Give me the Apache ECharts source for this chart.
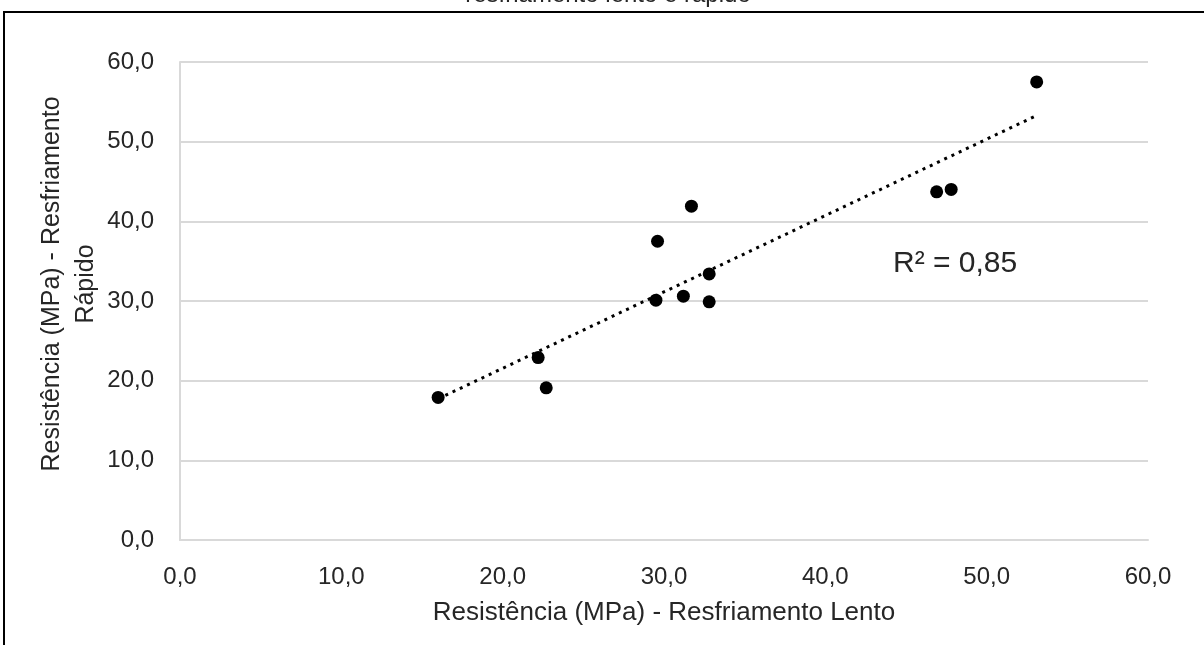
<!DOCTYPE html>
<html>
<head>
<meta charset="utf-8">
<title>Resfriamento lento e rápido</title>
<script src="https://cdn.jsdelivr.net/npm/echarts@6/dist/echarts.min.js"></script>
<style>
  html, body { margin: 0; padding: 0; background: #fff; }
  #main { width: 1204px; height: 645px; }
</style>
</head>
<body>
<div id="main"></div>
<script>
// valores (MPa)
var lento = [16.0, 22.2, 22.7, 29.5, 29.6, 31.2, 31.7, 32.8, 32.8, 46.9, 47.8, 53.1];
var rapido = [17.9, 22.9, 19.1, 30.1, 37.5, 30.6, 41.9, 33.4, 29.9, 43.7, 44.0, 57.5];
var r2Label = 'R² = 0,85';

var pontos = lento.map(function (x, i) { return [x, rapido[i]]; });

// linha de tendência linear (mínimos quadrados)
var n = lento.length, sx = 0, sy = 0, sxx = 0, sxy = 0;
for (var i = 0; i < n; i++) {
    sx += lento[i]; sy += rapido[i];
    sxx += lento[i] * lento[i]; sxy += lento[i] * rapido[i];
}
var a = (n * sxy - sx * sy) / (n * sxx - sx * sx);
var b = (sy - a * sx) / n;
var xMin = Math.min.apply(null, lento), xMax = Math.max.apply(null, lento);
var tendencia = [[xMin, a * xMin + b], [xMax, a * xMax + b]];

function virgula(v) { return v.toFixed(1).replace('.', ','); }

var fonte = '"Liberation Sans", Arial, sans-serif';
var chart = echarts.init(document.getElementById('main'));
var option = {
    animation: false,
    grid: { left: 180, right: 56, top: 62, bottom: 105 },
    xAxis: {
        type: 'value', min: 0, max: 60, interval: 10,
        axisLine: { show: true, lineStyle: { color: '#d9d9d9', width: 2 } },
        axisTick: { show: false },
        splitLine: { show: false },
        axisLabel: { formatter: virgula, color: '#262626', fontSize: 24, fontFamily: fonte, margin: 25 },
        name: 'Resistência (MPa) - Resfriamento Lento',
        nameLocation: 'middle', nameGap: 60,
        nameTextStyle: { color: '#262626', fontSize: 26, fontFamily: fonte }
    },
    yAxis: {
        type: 'value', min: 0, max: 60, interval: 10,
        axisLine: { show: true, lineStyle: { color: '#d9d9d9', width: 2 } },
        axisTick: { show: false },
        splitLine: { lineStyle: { color: '#d9d9d9', width: 2 } },
        axisLabel: { formatter: virgula, color: '#262626', fontSize: 24, fontFamily: fonte, margin: 26 }
    },
    graphic: [
        { type: 'rect', shape: { x: 4, y: 12, width: 1400, height: 800 },
          style: { fill: 'none', stroke: '#000', lineWidth: 2 } },
        { type: 'text', x: 608, y: -5,
          style: { text: 'resfriamento lento e rápido', fill: '#262626', font: '24px ' + fonte,
                   textAlign: 'center', textVerticalAlign: 'middle' } },
        { type: 'text', x: 69, y: 284, rotation: Math.PI / 2,
          style: { text: 'Resistência (MPa) - Resfriamento\nRápido', fill: '#262626', font: '25px ' + fonte,
                   lineHeight: 34, textAlign: 'center', textVerticalAlign: 'middle' } },
        { type: 'text', x: 893, y: 264,
          style: { text: r2Label, fill: '#262626', font: '30px ' + fonte,
                   textAlign: 'left', textVerticalAlign: 'middle' } }
    ],
    series: [
        {
            type: 'line', data: tendencia, showSymbol: false, symbol: 'none',
            lineStyle: { color: '#000', width: 3, type: [3, 5], cap: 'butt' },
            silent: true, z: 2
        },
        {
            type: 'scatter', data: pontos, symbolSize: 13,
            itemStyle: { color: '#000', opacity: 1 }, z: 3
        }
    ]
};
chart.setOption(option);
</script>
</body>
</html>
